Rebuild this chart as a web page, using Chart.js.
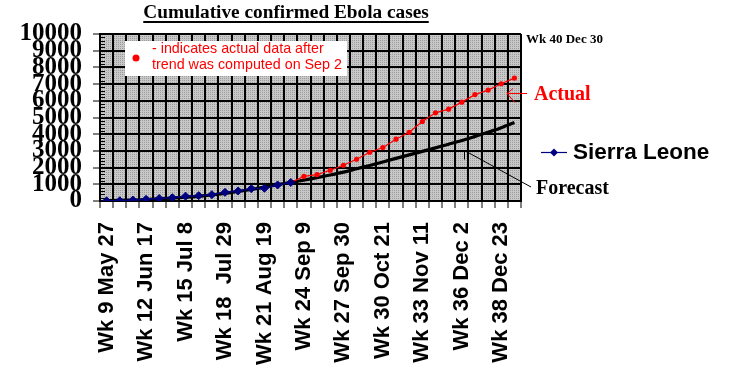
<!DOCTYPE html>
<html><head><meta charset="utf-8">
<script src="https://cdn.jsdelivr.net/npm/chart.js@4.4.1/dist/chart.umd.min.js"></script>
<style>html,body{margin:0;padding:0;background:#fff;}#wrap{width:734px;height:389px;}</style>
</head><body><div id="wrap"><canvas id="c" width="734" height="389"></canvas></div>
<script>
const categories = ['Wk 9 May 27','Wk 10 Jun 3','Wk 11 Jun 10','Wk 12 Jun 17','Wk 13 Jun 24','Wk 14 Jul 1','Wk 15 Jul 8','Wk 16 Jul 15','Wk 17 Jul 22','Wk 18 Jul 29','Wk 19 Aug 5','Wk 20 Aug 12','Wk 21 Aug 19','Wk 22 Aug 26','Wk 23 Sep 2','Wk 24 Sep 9','Wk 25 Sep 16','Wk 26 Sep 23','Wk 27 Sep 30','Wk 28 Oct 7','Wk 29 Oct 14','Wk 30 Oct 21','Wk 31 Oct 28','Wk 32 Nov 4','Wk 33 Nov 11','Wk 34 Nov 18','Wk 35 Nov 25','Wk 36 Dec 2','Wk 37 Dec 9','Wk 38 Dec 16','Wk 39 Dec 23','Wk 40 Dec 30'];
const tickLabels = ['Wk 9 May 27','Wk 12 Jun 17','Wk 15 Jul 8','Wk 18  Jul 29','Wk 21 Aug 19','Wk 24 Sep 9','Wk 27 Sep 30','Wk 30 Oct 21','Wk 33 Nov 11','Wk 36 Dec 2','Wk 38 Dec 23'];
const tickEvery = 3;
const sierraLeone = [10,15,60,100,150,200,290,320,380,520,600,740,760,960,1110,null,null,null,null,null,null,null,null,null,null,null,null,null,null,null,null,null];
const actual = [null,null,null,null,null,null,null,null,null,null,null,null,null,null,1110,1475,1580,1840,2140,2500,2920,3200,3700,4115,4760,5280,5500,5920,6370,6640,7020,7360];
const forecast = [20,35,60,90,130,175,225,280,360,460,570,690,830,980,1120,1250,1400,1560,1730,1930,2130,2340,2550,2760,2970,3180,3400,3620,3870,4120,4390,4700];
const yTicks = {min:0, max:10000, step:1000, minorStep:200};

const titleText = 'Cumulative confirmed Ebola cases';
const noteLines = ['- indicates actual data after','trend was computed on Sep 2'];

let pattern = null;
function getPattern(ctx){
  if (pattern) return pattern;
  const pc = document.createElement('canvas'); pc.width = 2; pc.height = 2;
  const p = pc.getContext('2d');
  p.fillStyle = '#c8c8c8'; p.fillRect(0,0,2,2);
  p.fillStyle = '#9c9c9c'; p.fillRect(0,0,1,1);
  pattern = ctx.createPattern(pc,'repeat');
  return pattern;
}

const decor = {
  id:'decor',
  beforeDraw(chart){
    const {ctx, chartArea:a} = chart;
    ctx.save();
    ctx.fillStyle = getPattern(ctx);
    ctx.fillRect(a.left, a.top, a.right-a.left, a.bottom-a.top);
    ctx.restore();
  },
  afterDraw(chart){
    const {ctx, chartArea:a} = chart;
    const ys = chart.scales.y;
    ctx.save();
    ctx.strokeStyle = '#000'; ctx.lineWidth = 1;
    for (let v = yTicks.min; v <= yTicks.max; v += yTicks.minorStep){
      if (v % yTicks.step === 0) continue;
      const y = Math.round(ys.getPixelForValue(v)) + 0.5;
      ctx.beginPath(); ctx.moveTo(a.left, y); ctx.lineTo(a.left+5, y); ctx.stroke();
    }
    ctx.fillStyle = '#000';
    ctx.font = 'bold 19.3px "Liberation Serif"';
    ctx.textAlign = 'center'; ctx.textBaseline = 'middle';
    const tx = 286, ty = 13;
    ctx.fillText(titleText, tx, ty);
    const tw = ctx.measureText(titleText).width;
    ctx.fillRect(tx - tw/2, 21, tw, 2);
    ctx.font = 'bold 13px "Liberation Serif"';
    ctx.textAlign = 'left';
    ctx.fillText(categories[categories.length-1], a.right + 5, a.top + 6);
    ctx.fillStyle = '#fff';
    ctx.fillRect(a.left + 25, a.top + 7, 222, 35);
    ctx.fillStyle = '#ff0000';
    ctx.beginPath(); ctx.arc(a.left + 36, a.top + 24, 3.5, 0, Math.PI*2); ctx.fill();
    ctx.font = '14.3px "Liberation Sans"';
    ctx.fillText(noteLines[0], a.left + 52, a.top + 15.5);
    ctx.fillText(noteLines[1], a.left + 52, a.top + 31.5);
    ctx.font = 'bold 20px "Liberation Serif"';
    ctx.fillStyle = '#ff0000';
    ctx.fillText('Actual', a.right + 13, 95);
    ctx.strokeStyle = '#ff0000'; ctx.lineWidth = 1;
    const ax = a.right - 14, ay = 93.5;
    ctx.beginPath();
    ctx.moveTo(a.right + 6, ay); ctx.lineTo(ax, ay);
    ctx.moveTo(ax, ay); ctx.lineTo(ax + 6, ay - 5);
    ctx.moveTo(ax, ay); ctx.lineTo(ax + 8, ay + 9);
    ctx.stroke();
    ctx.fillStyle = '#000'; ctx.strokeStyle = '#000';
    ctx.fillText('Forecast', a.right + 15, 189);
    const fx = 464.5, fy = 150.5;
    ctx.beginPath();
    ctx.moveTo(a.right + 10, 187); ctx.lineTo(fx, fy);
    ctx.moveTo(fx, fy); ctx.lineTo(fx + 13, fy);
    ctx.moveTo(fx, fy); ctx.lineTo(fx, fy + 9);
    ctx.stroke();
    const lx = a.right + 20, ly = 152.5;
    ctx.strokeStyle = '#000080'; ctx.lineWidth = 1.2;
    ctx.beginPath(); ctx.moveTo(lx, ly); ctx.lineTo(lx + 26, ly); ctx.stroke();
    ctx.fillStyle = '#000080';
    ctx.beginPath(); ctx.moveTo(lx+13, ly-4); ctx.lineTo(lx+17, ly); ctx.lineTo(lx+13, ly+4); ctx.lineTo(lx+9, ly); ctx.closePath(); ctx.fill();
    ctx.fillStyle = '#000';
    ctx.font = 'bold 22.5px "Liberation Sans"';
    ctx.fillText('Sierra Leone', lx + 32, ly);
    ctx.restore();
  }
};

new Chart(document.getElementById('c'), {
  type:'line',
  data:{
    labels: categories,
    datasets:[
      {label:'Sierra Leone', data:sierraLeone, borderColor:'#000080', backgroundColor:'#000080', borderWidth:1.5,
       pointStyle:'rectRot', pointRadius:4, pointBorderWidth:1, tension:0},
      {label:'Actual', data:actual, borderColor:'#ff0000', backgroundColor:'#ff0000', borderWidth:1.2,
       pointStyle:'circle', pointRadius:2.6, pointBorderWidth:0, tension:0},
      {label:'Forecast', data:forecast, borderColor:'#000', borderWidth:3.2, pointRadius:0, tension:0.2}
    ]
  },
  options:{
    responsive:false, animation:false, devicePixelRatio:1,
    layout:{padding:{top:34, right:213, left:0, bottom:0}},
    plugins:{legend:{display:false}, tooltip:{enabled:false}, title:{display:false}},
    scales:{
      x:{
        offset:true,
        grid:{offset:true, color:'#000', lineWidth:2, tickLength:7, tickWidth:1, tickColor:'#000'},
        border:{display:true, color:'#000', width:2},
        ticks:{autoSkip:false, minRotation:90, maxRotation:90, padding:14, color:'#000',
          font:{family:'Liberation Sans', size:22, weight:'bold'},
          callback:(v,i)=> i % tickEvery === 0 ? (tickLabels[i/tickEvery] || '') : ''},
        afterFit(s){ s.height = 188; s.paddingLeft = 0; s.paddingRight = 0; }
      },
      y:{
        min:yTicks.min, max:yTicks.max,
        grid:{color:'#000', lineWidth:2, tickLength:7, tickWidth:1, tickColor:'#000'},
        border:{display:true, color:'#000', width:2},
        ticks:{stepSize:yTicks.step, autoSkip:false, padding:11, color:'#000',
          font:{family:'Liberation Serif', size:25, weight:'bold'},
          callback:(v)=> String(v)},
        afterFit(s){ s.width = 100; s.paddingTop = 0; s.paddingBottom = 0; }
      }
    }
  },
  plugins:[decor]
});
</script></body></html>
